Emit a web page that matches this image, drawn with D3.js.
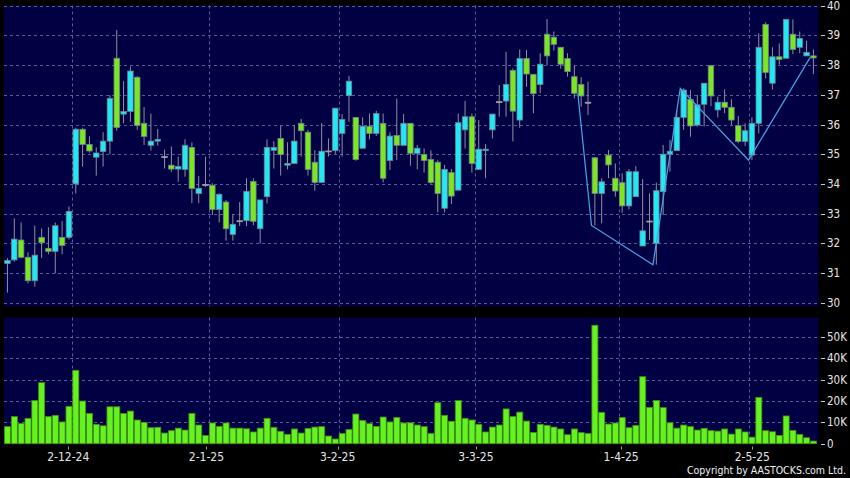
<!DOCTYPE html>
<html>
<head>
<meta charset="utf-8">
<script src="https://cdn.jsdelivr.net/npm/d3@7"></script>
<style>
  html, body { margin: 0; padding: 0; background: #000; }
  svg { display: block; }
</style>
</head>
<body>
<svg id="chart" width="850" height="478"></svg>
<script>
// ---------- DATA ----------
const opens  = [31.32,31.44,32.11,31.53,30.74,32.20,31.83,31.73,32.20,32.20,34.00,35.84,35.33,34.90,35.09,35.44,38.23,36.35,36.44,37.59,
                36.04,35.30,35.44,34.92,34.63,34.50,34.49,35.23,33.68,33.98,33.95,33.14,33.39,32.30,32.76,32.76,34.08,32.49,33.57,35.13,
                35.53,34.63,34.69,36.04,35.74,34.73,34.05,35.11,35.12,35.70,36.97,36.24,35.20,35.94,35.70,36.04,34.79,35.63,35.30,36.04,
                35.03,34.99,34.82,34.73,33.18,34.38,33.79,35.82,36.26,34.49,35.12,35.82,36.77,36.79,37.82,36.15,38.22,37.69,37.35,39.04,
                38.94,38.60,38.22,37.61,37.35,36.75,34.88,33.68,34.97,34.19,34.04,33.26,33.57,31.91,32.75,32.00,33.74,35.00,35.12,36.24,
                36.85,35.98,36.68,37.98,36.49,36.75,36.58,35.96,35.43,34.97,36.04,39.37,37.39,38.28,38.23,39.04,38.60,38.31,38.31];
const highs  = [31.50,32.84,32.70,31.70,32.60,32.50,32.54,32.70,32.75,33.24,35.89,35.89,35.60,35.23,35.74,36.99,39.18,37.46,37.95,37.62,
                36.59,36.37,35.85,35.15,35.26,34.92,35.50,35.40,34.27,34.92,34.02,33.68,33.46,32.98,33.39,34.19,34.19,33.46,35.50,35.44,
                35.95,35.40,35.98,36.19,35.82,35.13,36.05,35.53,36.55,36.35,37.63,36.24,36.24,36.37,36.46,36.37,35.74,36.87,36.35,36.04,
                35.31,35.20,35.13,34.80,34.64,34.50,36.37,36.79,36.37,36.15,35.34,36.35,37.33,38.45,37.89,38.53,38.51,37.69,38.40,39.55,
                39.13,38.60,38.40,37.98,37.59,37.44,34.90,34.19,35.14,34.69,34.36,34.50,34.60,34.16,33.68,34.04,35.31,35.48,36.49,37.22,
                37.16,36.99,37.39,37.98,36.94,37.18,36.85,36.29,36.04,36.24,39.07,39.44,38.60,38.73,39.54,39.54,39.13,38.82,38.53];
const lows   = [30.34,31.38,31.49,30.65,30.54,31.51,31.63,30.99,31.63,32.13,33.68,34.58,35.05,34.28,34.58,35.00,35.79,36.04,36.09,35.82,
                35.31,35.12,35.29,34.52,34.41,34.07,34.24,33.35,33.35,33.90,32.95,32.70,32.09,32.09,32.58,32.58,32.61,31.99,33.34,34.52,
                34.28,34.49,34.69,34.92,34.28,33.77,34.05,34.92,35.01,34.92,36.09,34.78,35.20,35.50,35.61,34.05,34.47,34.80,35.30,34.61,
                34.49,34.38,34.00,33.04,33.04,33.32,33.79,35.19,34.38,34.49,34.19,35.53,36.26,36.26,35.43,35.89,37.27,36.38,37.05,38.00,
                38.49,37.88,37.61,36.88,36.60,36.32,32.60,32.67,34.19,33.57,33.03,33.14,33.57,31.91,32.11,31.28,32.95,34.41,35.12,35.82,
                35.59,35.93,35.93,36.62,36.24,36.38,35.98,35.37,35.28,34.80,35.70,37.55,37.18,38.02,38.23,38.37,38.40,38.31,37.70];
const closes = [31.42,32.14,31.53,30.74,31.60,32.02,31.73,32.59,31.93,33.07,35.84,35.33,35.11,35.04,35.44,36.88,35.90,36.44,37.80,35.97,
                35.60,35.44,35.50,34.92,34.50,34.59,35.30,33.85,33.85,33.98,33.14,33.65,32.49,32.64,32.76,33.75,32.74,33.46,35.23,35.23,
                34.99,34.69,35.44,35.79,34.49,34.05,35.10,35.11,36.55,36.17,37.46,34.82,35.94,35.70,36.37,34.19,35.61,35.30,36.04,35.03,
                35.20,34.79,34.05,33.68,34.49,33.59,36.06,36.26,34.69,35.17,35.17,36.35,36.77,37.35,36.45,38.22,37.70,37.04,38.03,38.31,
                38.70,38.03,37.78,37.05,36.96,36.75,33.68,34.07,34.64,33.76,33.26,34.41,34.41,32.42,32.75,33.77,35.00,35.10,36.24,37.16,
                35.95,36.66,37.39,36.96,36.75,36.58,36.15,35.43,35.79,36.04,38.60,37.75,38.28,38.19,39.54,38.53,38.90,38.43,38.24];
// volume in thousands of shares
const volumes = [8.0,12.7,9.5,11.9,20.2,28.6,12.7,13.3,10.2,17.5,34.4,20.0,14.2,9.1,8.4,17.3,17.3,14.2,15.3,11.1,
                 10.0,7.5,7.7,5.0,6.1,7.3,6.4,14.2,8.75,3.9,9.7,8.1,9.7,7.3,7.3,7.0,5.5,7.3,11.9,7.7,
                 5.8,4.4,6.9,5.0,7.2,7.8,8.0,3.6,2.2,4.8,6.7,13.9,10.9,9.4,8.1,12.5,10.2,12.3,9.7,9.8,
                 8.75,8.0,4.8,19.2,13.3,10.5,20.2,11.9,11.1,9.1,5.5,7.8,8.75,16.3,12.7,14.8,10.6,5.3,9.1,8.6,
                 7.8,6.9,4.2,6.9,5.2,4.8,55.5,14.7,9.2,9.7,12.3,7.5,8.6,31.4,17.0,20.3,16.9,9.8,7.3,8.75,
                 8.0,6.4,7.2,6.1,5.9,6.9,4.5,6.9,5.5,3.1,21.7,6.1,5.6,3.9,13.0,6.25,4.4,2.8,1.25];
// zigzag pivots: [bar index, price]
const zigzagIdx   = [84, 86, 95, 99, 109, 118];
const zigzagPrice = [37.05, 32.60, 31.28, 37.22, 34.80, 38.25];
// x-axis date ticks (bar index of month's first trading day)
const dateTickIdx    = [10, 30, 49, 69, 90, 109];
const dateTickLabels = ["2-12-24", "2-1-25", "3-2-25", "3-3-25", "1-4-25", "2-5-25"];
const priceTicks  = [30, 31, 32, 33, 34, 35, 36, 37, 38, 39, 40];
const volumeTicks = [0, 10, 20, 30, 40, 50];

// ---------- LAYOUT ----------
const svg = d3.select("#chart");
const W = 850, H = 478;
const plotL = 4, plotR = 818.5;
const mainT = 5.5, mainB = 306.5;
const volT = 317.5, volB = 444;
const N = opens.length;

const COL = {
  bg: "#000043",
  grid: "#5a5a9c",
  up: "#22e8f4",
  down: "#7ae81c",
  wick: "#9090a0",
  bodyStroke: "#6f8492",
  vol: "#66f21e",
  volStroke: "#3d8f12",
  zig: "#4aa6e6",
  text: "#e6e6e6"
};
const FONT = "'DejaVu Sans Condensed', 'DejaVu Sans', sans-serif";

svg.append("rect").attr("width", W).attr("height", H).attr("fill", "#000");

const x = d3.scaleBand().domain(d3.range(N)).range([4.1, 4.1 + 6.83 * N]).paddingInner(0).paddingOuter(0);
const step = x.step();
const xc = i => x(i) + step / 2 - 0.05;
const tickX = d3.scaleLinear().domain([0, N]).range([-0.8, -0.8 + 6.909 * N]);

const y = d3.scaleLinear().domain([30, 40]).range([302.7, 5.7]);
const yv = d3.scaleLinear().domain([0, 50]).range([443.7, 337]);

// panels
svg.append("rect").attr("x", plotL).attr("y", mainT).attr("width", plotR - plotL).attr("height", mainB - mainT).attr("fill", COL.bg);
svg.append("rect").attr("x", plotL).attr("y", volT).attr("width", plotR - plotL).attr("height", volB - volT).attr("fill", COL.bg);

// grid - main
const gMain = svg.append("g");
gMain.selectAll("line.h").data(priceTicks).join("line")
  .attr("x1", plotL).attr("x2", plotR)
  .attr("y1", d => Math.round(y(d)) + 0.5).attr("y2", d => Math.round(y(d)) + 0.5)
  .attr("stroke", COL.grid).attr("stroke-width", 1).attr("stroke-dasharray", "3,3");
gMain.selectAll("line.v").data(dateTickIdx).join("line")
  .attr("x1", d => Math.round(x(d)) + 0.5).attr("x2", d => Math.round(x(d)) + 0.5)
  .attr("y1", mainT).attr("y2", mainB)
  .attr("stroke", COL.grid).attr("stroke-width", 1).attr("stroke-dasharray", "3,3");

// grid - volume
const gVolGrid = svg.append("g");
gVolGrid.selectAll("line.h").data(volumeTicks.filter(d => d > 0)).join("line")
  .attr("x1", plotL).attr("x2", plotR)
  .attr("y1", d => Math.round(yv(d)) + 0.5).attr("y2", d => Math.round(yv(d)) + 0.5)
  .attr("stroke", COL.grid).attr("stroke-width", 1).attr("stroke-dasharray", "3,3");
gVolGrid.selectAll("line.v").data(dateTickIdx).join("line")
  .attr("x1", d => Math.round(x(d)) + 0.5).attr("x2", d => Math.round(x(d)) + 0.5)
  .attr("y1", volT).attr("y2", volB)
  .attr("stroke", COL.grid).attr("stroke-width", 1).attr("stroke-dasharray", "3,3");

// candles
const idx = d3.range(N);
const gC = svg.append("g");
gC.selectAll("line.wick").data(idx).join("line")
  .attr("x1", i => xc(i)).attr("x2", i => xc(i))
  .attr("y1", i => y(highs[i])).attr("y2", i => y(lows[i]))
  .attr("stroke", COL.wick).attr("stroke-width", 1);
const bw = step * 0.8;
gC.selectAll("rect.body").data(idx).join("rect")
  .attr("x", i => xc(i) - bw / 2)
  .attr("width", bw)
  .attr("y", i => y(Math.max(opens[i], closes[i])))
  .attr("height", i => Math.max(1, Math.abs(y(opens[i]) - y(closes[i]))))
  .attr("fill", i => closes[i] > opens[i] ? COL.up : (closes[i] < opens[i] ? COL.down : "#a0a0a8"))
  .attr("stroke", i => closes[i] === opens[i] ? "#a0a0a8" : COL.bodyStroke)
  .attr("stroke-width", 0.8);

// zigzag
const zz = zigzagIdx.map((d, k) => [x(d), y(zigzagPrice[k])]);
svg.append("path").attr("d", d3.line()(zz)).attr("fill", "none")
  .attr("stroke", COL.zig).attr("stroke-width", 1.2);

// volume bars
svg.append("g").selectAll("rect").data(idx).join("rect")
  .attr("x", i => x(i) + 0.4)
  .attr("width", step - 0.8)
  .attr("y", i => yv(volumes[i]))
  .attr("height", i => yv(0) - yv(volumes[i]))
  .attr("fill", COL.vol).attr("stroke", COL.volStroke).attr("stroke-width", 0.8);

// right axis - price
const gA = svg.append("g");
gA.selectAll("line").data(priceTicks).join("line")
  .attr("x1", 821).attr("x2", 825)
  .attr("y1", d => Math.round(y(d)) + 0.5).attr("y2", d => Math.round(y(d)) + 0.5)
  .attr("stroke", "#c8c8c8");
gA.selectAll("text").data(priceTicks).join("text")
  .attr("x", 827).attr("y", d => y(d) + 4)
  .attr("fill", COL.text).attr("font-family", FONT).attr("font-size", 11.5)
  .text(d => d);

// right axis - volume
const gV = svg.append("g");
gV.selectAll("line").data(volumeTicks).join("line")
  .attr("x1", 821).attr("x2", 825)
  .attr("y1", d => Math.round(yv(d)) + 0.5).attr("y2", d => Math.round(yv(d)) + 0.5)
  .attr("stroke", "#c8c8c8");
gV.selectAll("text").data(volumeTicks).join("text")
  .attr("x", 827).attr("y", d => yv(d) + 4)
  .attr("fill", COL.text).attr("font-family", FONT).attr("font-size", 11.5)
  .text(d => d === 0 ? "0" : d + "K");

// bottom axis - dates
const gX = svg.append("g");
gX.selectAll("line").data(dateTickIdx).join("line")
  .attr("x1", d => Math.round(tickX(d)) + 0.5).attr("x2", d => Math.round(tickX(d)) + 0.5)
  .attr("y1", 446.5).attr("y2", 449.5)
  .attr("stroke", "#a0a0a0");
gX.selectAll("text").data(dateTickIdx).join("text")
  .attr("x", d => tickX(d)).attr("y", 461.2)
  .attr("text-anchor", "middle")
  .attr("fill", COL.text).attr("font-family", FONT).attr("font-size", 12)
  .text((d, k) => dateTickLabels[k]);

// copyright
svg.append("text").attr("x", 846).attr("y", 474)
  .attr("text-anchor", "end")
  .attr("fill", "#f0f0f0").attr("font-family", FONT).attr("font-size", 10.6)
  .attr("textLength", 159).attr("lengthAdjust", "spacingAndGlyphs")
  .text("Copyright by AASTOCKS.com Ltd.");
</script>
</body>
</html>
